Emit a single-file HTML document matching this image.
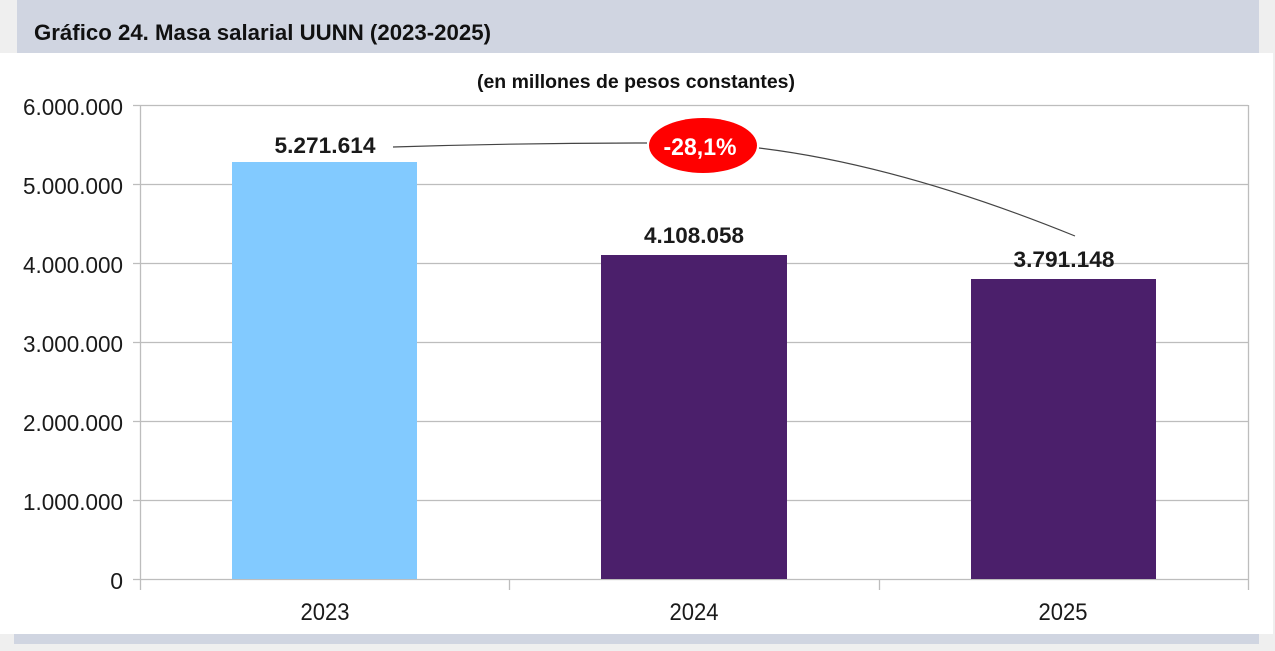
<!DOCTYPE html>
<html><head><meta charset="utf-8"><style>
html,body{margin:0;padding:0;background:#efefef;}
svg{display:block;}
</style></head><body>
<svg width="1275" height="651" viewBox="0 0 1275 651" xmlns="http://www.w3.org/2000/svg">
<rect x="0" y="0" width="1275" height="651" fill="#efefef"/>
<rect x="17" y="0" width="1242" height="53" fill="#d0d5e1"/>
<rect x="0" y="53" width="1273" height="581" fill="#ffffff"/>
<rect x="14" y="634" width="1245" height="10" fill="#d0d5e1"/>
<text x="34" y="40" font-family="Liberation Sans, sans-serif" font-weight="bold" font-size="22" fill="#111" textLength="457" lengthAdjust="spacingAndGlyphs">Gráfico 24. Masa salarial UUNN (2023-2025)</text>
<text x="477" y="88" font-family="Liberation Sans, sans-serif" font-weight="bold" font-size="19" fill="#111" textLength="318" lengthAdjust="spacingAndGlyphs">(en millones de pesos constantes)</text>
<g stroke="#bdbdbd" stroke-width="1.3" fill="none">
<line x1="133" y1="105.5" x2="1248" y2="105.5"/>
<line x1="133" y1="184.5" x2="1248" y2="184.5"/>
<line x1="133" y1="263.5" x2="1248" y2="263.5"/>
<line x1="133" y1="342.5" x2="1248" y2="342.5"/>
<line x1="133" y1="421.5" x2="1248" y2="421.5"/>
<line x1="133" y1="500.5" x2="1248" y2="500.5"/>
<line x1="133" y1="579.5" x2="1248" y2="579.5"/>
<line x1="140.5" y1="105" x2="140.5" y2="590"/>
<line x1="1248.5" y1="105" x2="1248.5" y2="590"/>
<line x1="509.5" y1="579" x2="509.5" y2="590"/>
<line x1="879.5" y1="579" x2="879.5" y2="590"/>
</g>
<rect x="232" y="162" width="185" height="417" fill="#82caff"/>
<rect x="601" y="255" width="186" height="324" fill="#4b1f6b"/>
<rect x="971" y="279" width="185" height="300" fill="#4b1f6b"/>
<g font-family="Liberation Sans, sans-serif" font-size="23" fill="#1a1a1a" text-anchor="end">
<text x="123" y="115" textLength="100" lengthAdjust="spacingAndGlyphs">6.000.000</text>
<text x="123" y="194" textLength="100" lengthAdjust="spacingAndGlyphs">5.000.000</text>
<text x="123" y="273" textLength="100" lengthAdjust="spacingAndGlyphs">4.000.000</text>
<text x="123" y="352" textLength="100" lengthAdjust="spacingAndGlyphs">3.000.000</text>
<text x="123" y="431" textLength="100" lengthAdjust="spacingAndGlyphs">2.000.000</text>
<text x="123" y="510" textLength="100" lengthAdjust="spacingAndGlyphs">1.000.000</text>
<text x="123" y="589">0</text>
</g>
<g font-family="Liberation Sans, sans-serif" font-size="24" fill="#1a1a1a" text-anchor="middle">
<text x="325" y="620" textLength="49" lengthAdjust="spacingAndGlyphs">2023</text>
<text x="694" y="620" textLength="49" lengthAdjust="spacingAndGlyphs">2024</text>
<text x="1063" y="620" textLength="49" lengthAdjust="spacingAndGlyphs">2025</text>
</g>
<g font-family="Liberation Sans, sans-serif" font-weight="bold" font-size="22" fill="#1a1a1a" text-anchor="middle">
<text x="325" y="153" textLength="101" lengthAdjust="spacingAndGlyphs">5.271.614</text>
<text x="694" y="243" textLength="100" lengthAdjust="spacingAndGlyphs">4.108.058</text>
<text x="1064" y="267" textLength="101" lengthAdjust="spacingAndGlyphs">3.791.148</text>
</g>
<g stroke="#444" stroke-width="1.2" fill="none">
<path d="M393,147 Q520,143 647,143"/>
<path d="M759,148 Q900,165 1075,236"/>
</g>
<ellipse cx="703" cy="145.5" rx="54" ry="27.5" fill="#ff0000"/>
<text x="700" y="155" font-family="Liberation Sans, sans-serif" font-weight="bold" font-size="24" fill="#ffffff" text-anchor="middle" textLength="73" lengthAdjust="spacingAndGlyphs">-28,1%</text>
</svg>
</body></html>
